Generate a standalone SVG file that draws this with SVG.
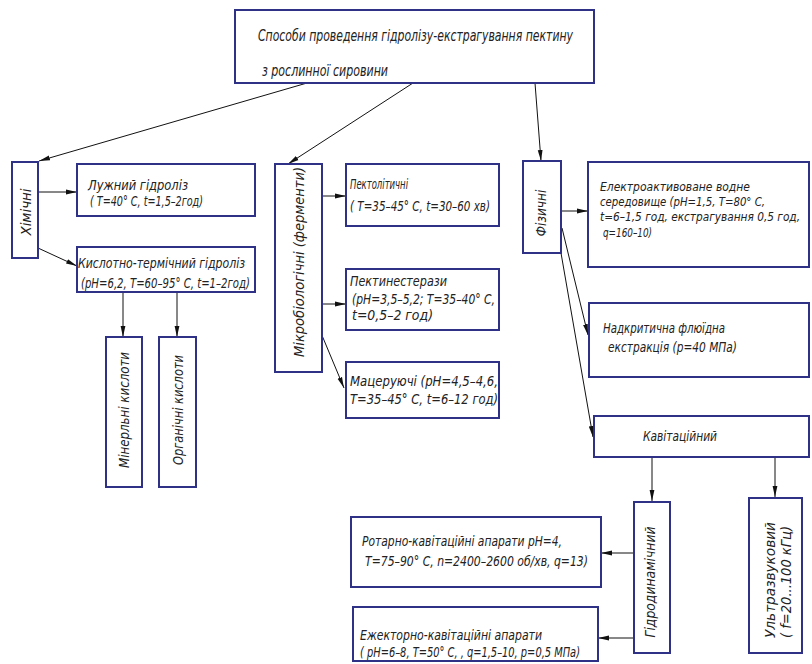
<svg xmlns="http://www.w3.org/2000/svg" width="812" height="664" viewBox="0 0 812 664">
<style>
.b{fill:#fff;stroke:#2e3185;stroke-width:2}
.t{font-family:"Liberation Sans Narrow","DejaVu Sans Condensed","Liberation Sans",sans-serif;font-style:italic;font-size:14px;fill:#222}
.s{font-size:13px}
.c{stroke:#111;stroke-width:1;fill:none;marker-end:url(#a)}
</style>
<defs>
<marker id="a" markerUnits="userSpaceOnUse" markerWidth="11" markerHeight="6" refX="11" refY="3" orient="auto">
<path d="M0,0.6 L11,3 L0,5.4 z" fill="#111"/>
</marker>
</defs>
<rect width="812" height="664" fill="#fff"/>
<g id="connectors">
<line class="c" x1="307" y1="83" x2="39" y2="161"/>
<line class="c" x1="413" y1="83" x2="288" y2="164"/>
<line class="c" x1="535" y1="83" x2="541" y2="161"/>
<line class="c" x1="38" y1="192" x2="77" y2="192"/>
<line class="c" x1="38" y1="248" x2="77" y2="266"/>
<line class="c" x1="123" y1="292" x2="123" y2="337"/>
<line class="c" x1="177" y1="292" x2="177" y2="337"/>
<line class="c" x1="322" y1="196" x2="346" y2="196"/>
<line class="c" x1="322" y1="304" x2="346" y2="304"/>
<line class="c" x1="321" y1="333" x2="344" y2="388"/>
<line class="c" x1="561" y1="211" x2="588" y2="211"/>
<line class="c" x1="562" y1="228" x2="588" y2="335"/>
<line class="c" x1="561" y1="253" x2="593" y2="437"/>
<line class="c" x1="652" y1="457" x2="652" y2="501"/>
<line class="c" x1="775" y1="457" x2="775" y2="497"/>
<line class="c" x1="634" y1="553" x2="601" y2="553"/>
<line class="c" x1="634" y1="638" x2="598" y2="638"/>
</g>
<g id="top">
<rect class="b" x="235" y="10" width="359" height="73"/>
<text class="t" style="font-size:15px" x="258" y="41" textLength="315" lengthAdjust="spacingAndGlyphs">Способи проведення гідролізу-екстрагування пектину</text>
<text class="t" style="font-size:15px" x="262" y="76" textLength="126" lengthAdjust="spacingAndGlyphs">з рослинної сировини</text>
</g>
<g id="khimichni">
<rect class="b" x="12" y="162" width="26" height="96"/>
<text class="t" transform="translate(26,212) rotate(-90)" x="0" y="5" text-anchor="middle" textLength="47" lengthAdjust="spacingAndGlyphs">Хімічні</text>
</g>
<g id="luzhnyi">
<rect class="b" x="77" y="164" width="178" height="52"/>
<text class="t" x="88" y="190" textLength="100" lengthAdjust="spacingAndGlyphs">Лужний гідроліз</text>
<text class="t" x="90" y="206" textLength="113" lengthAdjust="spacingAndGlyphs">( T=40° C, t=1,5–2год)</text>
</g>
<g id="kyslotno">
<rect class="b" x="77" y="247" width="178" height="45"/>
<text class="t" x="78" y="268" textLength="167" lengthAdjust="spacingAndGlyphs">Кислотно-термічний гідроліз</text>
<text class="t" x="81" y="288" textLength="169" lengthAdjust="spacingAndGlyphs">(pH=6,2, T=60–95° C, t=1–2год)</text>
</g>
<g id="mineralni">
<rect class="b" x="106" y="337" width="36" height="150"/>
<text class="t" transform="translate(124,410) rotate(-90)" x="0" y="5" text-anchor="middle" textLength="116" lengthAdjust="spacingAndGlyphs">Мінерльні кислоти</text>
</g>
<g id="organichni">
<rect class="b" x="159" y="337" width="37" height="150"/>
<text class="t" transform="translate(178,410) rotate(-90)" x="0" y="5" text-anchor="middle" textLength="110" lengthAdjust="spacingAndGlyphs">Органічні кислоти</text>
</g>
<g id="mikrobiologichni">
<rect class="b" x="275" y="164" width="47" height="208"/>
<text class="t" transform="translate(299,262) rotate(-90)" x="0" y="5" text-anchor="middle" textLength="190" lengthAdjust="spacingAndGlyphs">Мікробіологічні (ферменти)</text>
</g>
<g id="pektolitychni">
<rect class="b" x="346" y="164" width="153" height="62"/>
<text class="t" x="350" y="189" textLength="58" lengthAdjust="spacingAndGlyphs">Пектолітичні</text>
<text class="t" x="350" y="211" textLength="140" lengthAdjust="spacingAndGlyphs">( T=35–45° C, t=30–60 хв)</text>
</g>
<g id="pektynesterazy">
<rect class="b" x="346" y="269" width="153" height="61"/>
<text class="t" x="350" y="286" textLength="97" lengthAdjust="spacingAndGlyphs">Пектинестерази</text>
<text class="t" x="352" y="304" textLength="143" lengthAdjust="spacingAndGlyphs">(pH=3,5–5,2;  T=35–40° C,</text>
<text class="t" x="352" y="320" textLength="81" lengthAdjust="spacingAndGlyphs">t=0,5–2 год)</text>
</g>
<g id="matseruiuchi">
<rect class="b" x="346" y="362" width="153" height="56"/>
<text class="t" x="350" y="386" textLength="148" lengthAdjust="spacingAndGlyphs">Мацеруючі (pH=4,5–4,6,</text>
<text class="t" x="350" y="404" textLength="148" lengthAdjust="spacingAndGlyphs">T=35–45° C, t=6–12 год)</text>
</g>
<g id="fizychni">
<rect class="b" x="523" y="161" width="38" height="92"/>
<text class="t" transform="translate(541,213) rotate(-90)" x="0" y="5" text-anchor="middle" textLength="47" lengthAdjust="spacingAndGlyphs">Фізичні</text>
</g>
<g id="elektro">
<rect class="b" x="588" y="162" width="221" height="105"/>
<text class="t s" x="600" y="191" textLength="150" lengthAdjust="spacingAndGlyphs">Електроактивоване водне</text>
<text class="t s" x="600" y="206" textLength="165" lengthAdjust="spacingAndGlyphs">середовище (pH=1,5, T=80° C,</text>
<text class="t" style="font-size:12px" x="600" y="221" textLength="200" lengthAdjust="spacingAndGlyphs">t=6–1,5 год, екстрагування 0,5 год,</text>
<text class="t s" x="603" y="237" textLength="49" lengthAdjust="spacingAndGlyphs">q=160–10)</text>
</g>
<g id="nadkrytychna">
<rect class="b" x="589" y="303" width="220" height="74"/>
<text class="t" x="603" y="333" textLength="122" lengthAdjust="spacingAndGlyphs">Надкритична флюїдна</text>
<text class="t" x="608" y="352" textLength="129" lengthAdjust="spacingAndGlyphs">екстракція (p=40 МПа)</text>
</g>
<g id="kavitatsiinyi">
<rect class="b" x="594" y="416" width="215" height="41"/>
<text class="t" x="643" y="441" textLength="74" lengthAdjust="spacingAndGlyphs">Кавітаційний</text>
</g>
<g id="hidrodynamichnyi">
<rect class="b" x="634" y="502" width="36" height="151"/>
<text class="t" transform="translate(650,582) rotate(-90)" x="0" y="5" text-anchor="middle" textLength="111" lengthAdjust="spacingAndGlyphs">Гідродинамічний</text>
</g>
<g id="ultrazvukovyi">
<rect class="b" x="749" y="498" width="53" height="155"/>
<text class="t" transform="translate(770,638) rotate(-90)" x="0" y="5" textLength="116" lengthAdjust="spacingAndGlyphs">Ультразвуковий</text>
<text class="t" transform="translate(786,638) rotate(-90)" x="0" y="5" textLength="112" lengthAdjust="spacingAndGlyphs">( f=20...100 кГц)</text>
</g>
<g id="rotarno">
<rect class="b" x="351" y="517" width="250" height="70"/>
<text class="t" x="362" y="546" textLength="200" lengthAdjust="spacingAndGlyphs">Ротарно-кавітаційні апарати pH=4,</text>
<text class="t" x="365" y="566" textLength="223" lengthAdjust="spacingAndGlyphs">T=75–90° C, n=2400–2600 об/хв, q=13)</text>
</g>
<g id="ezhektorno">
<rect class="b" x="353" y="607" width="245" height="54"/>
<text class="t" x="360" y="640" textLength="182" lengthAdjust="spacingAndGlyphs">Ежекторно-кавітаційні апарати</text>
<text class="t" x="360" y="657" textLength="220" lengthAdjust="spacingAndGlyphs">( pH=6–8, T=50° C, , q=1,5–10, p=0,5 МПа)</text>
</g>
</svg>
